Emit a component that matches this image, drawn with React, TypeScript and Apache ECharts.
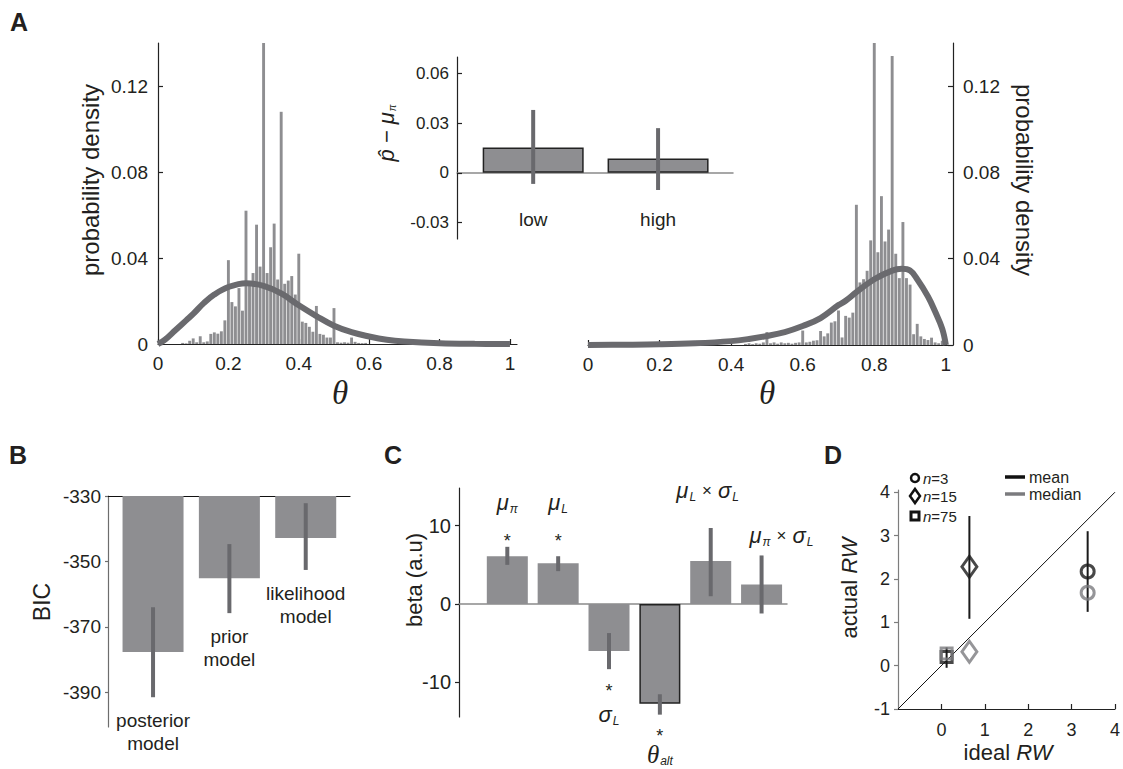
import React, { useEffect, useRef } from "react";
import * as echarts from "echarts";

// ---------- data ----------
const binWidth = 0.01;
const leftHistFirstBin = 7;
const leftHistDensity = [
  0.0005, 0.0003, 0.0015, 0.0026, 0.0008, 0.0036, 0.0008, 0.0012, 0.0047, 0.0054,
  0.0048, 0.0059, 0.011, 0.039, 0.0195, 0.0175, 0.026, 0.0155, 0.062, 0.027,
  0.033, 0.0555, 0.036, 0.14, 0.033, 0.045, 0.056, 0.03, 0.108, 0.028,
  0.0295, 0.0316, 0.023, 0.042, 0.0104, 0.0098, 0.008, 0.0057, 0.0177, 0.0047,
  0.0043, 0.003, 0.003, 0.0167, 0.0008, 0.0006, 0.0008, 0.0006, 0.003, 0.001,
  0.0005, 0.0004, 0.0005,
];
const rightHistFirstBin = 44;
const rightHistDensity = [
  0.0005, 0.0008, 0.0004, 0.0008, 0.0006, 0.0012, 0.006, 0.0008, 0.0012, 0.0006,
  0.0012, 0.0008, 0.001, 0.0006, 0.001, 0.0012, 0.0067, 0.0012, 0.0015, 0.002,
  0.0022, 0.0065, 0.004, 0.0054, 0.0104, 0.011, 0.016, 0.0035, 0.0135, 0.0127,
  0.015, 0.065, 0.029, 0.0305, 0.0344, 0.0485, 0.14, 0.043, 0.069, 0.048,
  0.0535, 0.134, 0.0423, 0.031, 0.057, 0.031, 0.028, 0.005, 0.0098, 0.004,
  0.0028, 0.0023, 0.0034, 0.0012, 0.0008, 0.002,
];
const leftCurveTheta = [0, 0.02, 0.05, 0.08, 0.1, 0.13, 0.16, 0.2, 0.25, 0.3, 0.35, 0.4, 0.45, 0.5, 0.55, 0.6, 0.65, 0.7, 0.8, 0.9, 1.0];
const leftCurveDensity = [0, 0.002, 0.0065, 0.011, 0.014, 0.019, 0.023, 0.0265, 0.0283, 0.027, 0.0235, 0.018, 0.013, 0.0085, 0.0055, 0.0035, 0.002, 0.0012, 0.0004, 0.0001, 0];
const rightCurveTheta = [0, 0.1, 0.2, 0.3, 0.4, 0.45, 0.5, 0.55, 0.6, 0.65, 0.7, 0.72, 0.75, 0.8, 0.85, 0.877, 0.9, 0.92, 0.95, 0.97, 0.99, 1.0];
const rightCurveDensity = [0, 0.0001, 0.0003, 0.0008, 0.0018, 0.0028, 0.0042, 0.006, 0.0088, 0.0125, 0.0185, 0.0205, 0.0245, 0.0305, 0.0345, 0.0353, 0.0345, 0.0305, 0.0225, 0.0155, 0.0075, 0];
const thetaTicks = [0, 0.2, 0.4, 0.6, 0.8, 1];
const densityTicks = [0, 0.04, 0.08, 0.12];

const insetCategories = ["low", "high"];
const insetMeans = [0.0153, 0.0086];
const insetErrLow = [-0.0067, -0.0104];
const insetErrHigh = [0.038, 0.027];
const insetLabelY = -0.028;
const insetTicks = [-0.03, 0, 0.03, 0.06];

const bicModels = ["posterior\nmodel", "prior\nmodel", "likelihood\nmodel"];
const bicMeans = [-377.7, -355.1, -342.8];
const bicErrLow = [-391.5, -365.8, -352.6];
const bicErrHigh = [-364, -344.7, -332.2];
const bicTicks = [-390, -370, -350, -330];

const betaMeans = [6.1, 5.2, -6.0, -12.7, 5.5, 2.5];
const betaErrLow = [5.0, 4.2, -8.3, -14.1, 1.0, -1.2];
const betaErrHigh = [7.3, 6.1, -3.7, -11.5, 9.7, 6.2];
const betaOutlined = [false, false, false, true, false, false];
const betaTicks = [-10, 0, 10];
const betaAnnText = [
  "{g|μ}{s|π}", "{st|*}", "{g|μ}{s|L}", "{st|*}", "{st|*}", "{g|σ}{s|L}",
  "{st|*}", "{th|θ}{s|alt}", "{g|μ}{s|L}{x|×}{g|σ}{s|L}", "{g|μ}{s|π}{x|×}{g|σ}{s|L}",
];
const betaAnnX = [1, 1, 2, 2, 3, 3, 4, 4, 4.94, 6.39];
const betaAnnY = [12.9, 8.0, 12.9, 8.0, -11.1, -14.1, -16.8, -19.2, 14.5, 8.7];

const rwSymbols = ["circle", "diamond", "rect"];
const rwIdeal = [3.37, 0.645, 0.12];
const rwMean = [2.17, 2.28, 0.2];
const rwMedian = [1.68, 0.32, 0.28];
const rwErrLow = [1.24, 1.08, -0.05];
const rwErrHigh = [3.1, 3.45, 0.42];
const rwTicksX = [0, 1, 2, 3, 4];
const rwTicksY = [-1, 0, 1, 2, 3, 4];
const legendN = ["3", "15", "75"];
const legendStats = ["mean", "median"];

// ---------- style ----------
const SANS = '"Liberation Sans", Arial, Helvetica, sans-serif';
const SERIF = '"Liberation Serif", "Times New Roman", serif';
const TXT = "#231f20";
const BAR = "#8e8e91";
const ERR = "#69696d";
const GREY = "#7b7b7e";

const richC: any = {
  g: { fontFamily: SANS, fontStyle: "italic", fontSize: 22, fill: TXT, color: TXT },
  s: { fontFamily: SANS, fontStyle: "italic", fontSize: 12, fill: TXT, color: TXT, padding: [13, 0, 0, 1] },
  th: { fontFamily: SERIF, fontStyle: "italic", fontSize: 25, fill: TXT, color: TXT },
  x: { fontFamily: SANS, fontSize: 17, fill: TXT, color: TXT, padding: [0, 6, 0, 6] },
  st: { fontFamily: SANS, fontSize: 18, fill: TXT, color: TXT },
};

function valueAxis(grid: number, min: number, max: number, ticks: number[] | null, o: any = {}) {
  return {
    type: "value",
    gridIndex: grid,
    min,
    max,
    splitLine: { show: false },
    axisLine: { show: true, onZero: false, lineStyle: { color: o.lineColor || "#222", width: 1.2 } },
    axisTick: ticks
      ? { show: true, inside: !!o.inside, length: o.tickLen || 5, customValues: ticks, lineStyle: { color: o.lineColor || "#222", width: 1.2 } }
      : { show: false },
    axisLabel: ticks
      ? { show: true, customValues: ticks, fontSize: o.fontSize || 19, color: TXT, fontFamily: SANS, margin: o.margin || 8 }
      : { show: false },
  };
}

function errRender(color: string, width: number, labels?: string[], labelFont = 19) {
  return (params: any, api: any) => {
    const x = api.value(0);
    const p1 = api.coord([x, api.value(1)]);
    const p2 = api.coord([x, api.value(2)]);
    const children: any[] = [
      { type: "line", shape: { x1: p1[0], y1: p1[1], x2: p2[0], y2: p2[1] }, style: { stroke: color, lineWidth: width } },
    ];
    if (labels) {
      children.push({
        type: "text",
        x: p1[0],
        y: p1[1] + 12,
        style: { text: labels[params.dataIndex], align: "center", verticalAlign: "top", fontSize: labelFont, lineHeight: 23, fontFamily: SANS, fill: TXT },
      });
    }
    return { type: "group", children };
  };
}

function buildOption(): any {
  const leftHist = leftHistDensity.map((d, i) => [(leftHistFirstBin + i) * binWidth, d]);
  const rightHist = rightHistDensity.map((d, i) => [(rightHistFirstBin + i) * binWidth, d]);
  const leftCurve = leftCurveTheta.map((t, i) => [t, leftCurveDensity[i]]);
  const rightCurve = rightCurveTheta.map((t, i) => [t, rightCurveDensity[i]]);

  const txt = (x: number, y: number, text: string, o: any = {}) => ({
    type: "text",
    x,
    y,
    rotation: o.rotation || 0,
    style: {
      text,
      fontSize: o.fontSize || 22,
      fontFamily: o.fontFamily || SANS,
      fontWeight: o.fontWeight || "normal",
      fontStyle: o.fontStyle || "normal",
      fill: TXT,
      align: o.align || "center",
      verticalAlign: "middle",
      lineHeight: o.lineHeight,
      rich: o.rich,
    },
  });

  const legendRich = {
    i: { fontFamily: SANS, fontStyle: "italic", fontSize: 15, lineHeight: 15, fill: TXT },
    n: { fontFamily: SANS, fontSize: 15, lineHeight: 15, fill: TXT },
  };
  const rwRich = {
    n: { fontFamily: SANS, fontSize: 22, fill: TXT },
    i: { fontFamily: SANS, fontStyle: "italic", fontSize: 22, fill: TXT },
  };

  const graphic: any[] = [
    txt(10, 22, "A", { fontSize: 25, fontWeight: "bold", align: "left" }),
    txt(9, 455, "B", { fontSize: 25, fontWeight: "bold", align: "left" }),
    txt(384, 455, "C", { fontSize: 25, fontWeight: "bold", align: "left" }),
    txt(824, 455, "D", { fontSize: 25, fontWeight: "bold", align: "left" }),
    txt(90, 180, "probability density", { rotation: Math.PI / 2, fontSize: 24 }),
    txt(1024, 180, "probability density", { rotation: -Math.PI / 2, fontSize: 24 }),
    txt(340, 393, "θ", { fontFamily: SERIF, fontStyle: "italic", fontSize: 33 }),
    txt(767, 393, "θ", { fontFamily: SERIF, fontStyle: "italic", fontSize: 33 }),
    txt(386, 133, "{a|p\u0302 − μ}{b|π}", {
      rotation: Math.PI / 2,
      rich: {
        a: { fontFamily: SANS, fontStyle: "italic", fontSize: 22, fill: TXT },
        b: { fontFamily: SANS, fontStyle: "italic", fontSize: 10, fill: TXT, padding: [12, 0, 0, 1] },
      },
    }),
    txt(42, 602, "BIC", { rotation: Math.PI / 2, fontSize: 23 }),
    txt(414, 580, "beta (a.u)", { rotation: Math.PI / 2, fontSize: 22 }),
    txt(849, 588, "{n|actual }{i|RW}", { rotation: Math.PI / 2, rich: rwRich }),
    txt(1008, 752, "{n|ideal }{i|RW}", { rich: rwRich }),
    // D legend: markers
    { type: "circle", shape: { cx: 915, cy: 478, r: 4 }, style: { fill: "none", stroke: "#111", lineWidth: 2.5 } },
    { type: "polygon", shape: { points: [[915, 489], [920, 496], [915, 503], [910, 496]] }, style: { fill: "none", stroke: "#111", lineWidth: 2.5 } },
    { type: "rect", shape: { x: 911, y: 512, width: 8, height: 8 }, style: { fill: "none", stroke: "#111", lineWidth: 3 } },
    ...legendN.map((n, i) => txt(923, [478, 496, 516][i], `{i|n}{n|=${n}}`, { align: "left", rich: legendRich, lineHeight: 15 })),
    { type: "line", shape: { x1: 1005, y1: 477, x2: 1025, y2: 477 }, style: { stroke: "#111", lineWidth: 3.5 } },
    { type: "line", shape: { x1: 1005, y1: 494, x2: 1025, y2: 494 }, style: { stroke: GREY, lineWidth: 3.5 } },
    ...legendStats.map((s, i) => txt(1029, [477, 494][i], s, { align: "left", fontSize: 16, lineHeight: 15 })),
  ];

  return {
    animation: false,
    backgroundColor: "#ffffff",
    textStyle: { fontFamily: SANS },
    grid: [
      { left: 158, top: 43, width: 359, height: 301 },
      { left: 588, top: 43, width: 365, height: 302 },
      { left: 457, top: 57, width: 276, height: 182 },
      { left: 108, top: 496, width: 242, height: 231 },
      { left: 459, top: 488, width: 328, height: 229 },
      { left: 898, top: 490, width: 219, height: 219 },
    ],
    xAxis: [
      valueAxis(0, 0, 1.02, thetaTicks, { inside: true, margin: 10 }),
      valueAxis(1, 0, 1.02, thetaTicks, { inside: true, margin: 10 }),
      {
        ...valueAxis(2, 0.39, 2.6, null),
        axisLine: { show: true, onZero: true, lineStyle: { color: "#8a8a8a", width: 1.5 } },
      },
      { ...valueAxis(3, 0.41, 3.58, null, { lineColor: "#111" }), position: "top" },
      {
        ...valueAxis(4, 0.05, 6.5, null),
        axisLine: { show: true, onZero: true, lineStyle: { color: "#8a8a8a", width: 1.5 } },
      },
      valueAxis(5, -1, 4, rwTicksX, { inside: true, margin: 12, fontSize: 18 }),
    ],
    yAxis: [
      valueAxis(0, 0, 0.14, densityTicks, { inside: true, margin: 10 }),
      { ...valueAxis(1, 0, 0.14, densityTicks, { inside: true, margin: 10 }), position: "right" },
      valueAxis(2, -0.04, 0.07, insetTicks, { inside: true, margin: 8, fontSize: 17 }),
      valueAxis(3, -400.6, -330, bicTicks, { lineColor: "#6d6d6d", tickLen: 3, margin: 7, fontSize: 19 }),
      valueAxis(4, -14.4, 14.8, betaTicks, { tickLen: 4, margin: 8, fontSize: 20 }),
      valueAxis(5, -1, 4.05, rwTicksY, { lineColor: "#7d7d7d", tickLen: 4, margin: 8, fontSize: 18 }),
    ],
    series: [
      { type: "bar", xAxisIndex: 0, yAxisIndex: 0, data: leftHist, barWidth: 2.9, clip: true, itemStyle: { color: BAR }, z: 2 },
      { type: "line", xAxisIndex: 0, yAxisIndex: 0, data: leftCurve, smooth: 0.4, symbol: "none", lineStyle: { color: "#6a6a6e", width: 6 }, z: 3 },
      { type: "bar", xAxisIndex: 1, yAxisIndex: 1, data: rightHist, barWidth: 2.9, clip: true, itemStyle: { color: BAR }, z: 2 },
      { type: "line", xAxisIndex: 1, yAxisIndex: 1, data: rightCurve, smooth: 0.4, symbol: "none", lineStyle: { color: "#6a6a6e", width: 6 }, z: 3 },
      {
        type: "bar", xAxisIndex: 2, yAxisIndex: 2, barWidth: 101, z: 4,
        data: insetMeans.map((m, i) => [i + 1, m]),
        itemStyle: { color: BAR, borderColor: "#222", borderWidth: 1.5 },
      },
      {
        type: "custom", xAxisIndex: 2, yAxisIndex: 2, z: 5, clip: false,
        data: insetMeans.map((_, i) => [i + 1, insetErrLow[i], insetErrHigh[i]]),
        encode: { x: 0, y: [1, 2] },
        renderItem: errRender(ERR, 4),
      },
      {
        type: "custom", xAxisIndex: 2, yAxisIndex: 2, z: 5, clip: false,
        data: insetCategories.map((_, i) => [i + 1, insetLabelY, i]),
        encode: { x: 0, y: 1 },
        renderItem: (params: any, api: any) => {
          const p = api.coord([api.value(0), api.value(1)]);
          return {
            type: "text", x: p[0], y: p[1],
            style: { text: insetCategories[api.value(2)], align: "center", verticalAlign: "middle", fontSize: 19, fontFamily: SANS, fill: TXT },
          };
        },
      },
      {
        type: "bar", xAxisIndex: 3, yAxisIndex: 3, barWidth: 61, clip: true,
        data: bicMeans.map((m, i) => [i + 1, m]),
        itemStyle: { color: BAR },
      },
      {
        type: "custom", xAxisIndex: 3, yAxisIndex: 3, clip: false, z: 5,
        data: bicMeans.map((_, i) => [i + 1, bicErrLow[i], bicErrHigh[i]]),
        encode: { x: 0, y: [1, 2] },
        renderItem: errRender(ERR, 4, bicModels),
      },
      {
        type: "bar", xAxisIndex: 4, yAxisIndex: 4, barWidth: 41,
        data: betaMeans.map((m, i) => ({
          value: [i + 1, m],
          itemStyle: { color: BAR, borderColor: betaOutlined[i] ? "#222" : BAR, borderWidth: betaOutlined[i] ? 1.5 : 0 },
        })),
      },
      {
        type: "custom", xAxisIndex: 4, yAxisIndex: 4, clip: false, z: 5,
        data: betaMeans.map((_, i) => [i + 1, betaErrLow[i], betaErrHigh[i]]),
        encode: { x: 0, y: [1, 2] },
        renderItem: errRender(ERR, 4),
      },
      {
        type: "custom", xAxisIndex: 4, yAxisIndex: 4, clip: false, z: 6,
        data: betaAnnX.map((x, i) => [x, betaAnnY[i], i]),
        encode: { x: 0, y: 1 },
        renderItem: (params: any, api: any) => {
          const p = api.coord([api.value(0), api.value(1)]);
          return {
            type: "text", x: p[0], y: p[1],
            style: { text: betaAnnText[api.value(2)], rich: richC, align: "center", verticalAlign: "middle", fill: TXT },
          };
        },
      },
      {
        type: "line", xAxisIndex: 5, yAxisIndex: 5, data: [[-1, -1], [4, 4]], symbol: "none", z: 1,
        lineStyle: { color: "#111", width: 1 },
      },
      {
        type: "custom", xAxisIndex: 5, yAxisIndex: 5, clip: false, z: 2,
        data: rwIdeal.map((x, i) => [x, rwErrLow[i], rwErrHigh[i]]),
        encode: { x: 0, y: [1, 2] },
        renderItem: errRender("#1a1a1a", 2),
      },
      {
        type: "scatter", xAxisIndex: 5, yAxisIndex: 5, z: 3,
        data: rwIdeal.map((x, i) => ({
          value: [x, rwMean[i]],
          symbol: rwSymbols[i],
          symbolSize: rwSymbols[i] === "diamond" ? [15, 21] : rwSymbols[i] === "rect" ? 11 : 13,
        })),
        itemStyle: { color: "rgba(0,0,0,0)", borderColor: "#1a1a1a", borderWidth: 3 },
      },
      {
        type: "scatter", xAxisIndex: 5, yAxisIndex: 5, z: 4,
        data: rwIdeal.map((x, i) => ({
          value: [x, rwMedian[i]],
          symbol: rwSymbols[i],
          symbolSize: rwSymbols[i] === "diamond" ? [15, 21] : rwSymbols[i] === "rect" ? 11 : 13,
        })),
        itemStyle: { color: "rgba(0,0,0,0)", borderColor: GREY, borderWidth: 3 },
      },
    ],
    graphic,
  };
}

export default function App() {
  const ref = useRef<HTMLDivElement>(null);
  useEffect(() => {
    document.body.style.margin = "0";
    const chart = echarts.init(ref.current as HTMLDivElement, null, { renderer: "svg" });
    chart.setOption(buildOption());
    return () => chart.dispose();
  }, []);
  return <div ref={ref} style={{ width: 1123, height: 769 }} />;
}
